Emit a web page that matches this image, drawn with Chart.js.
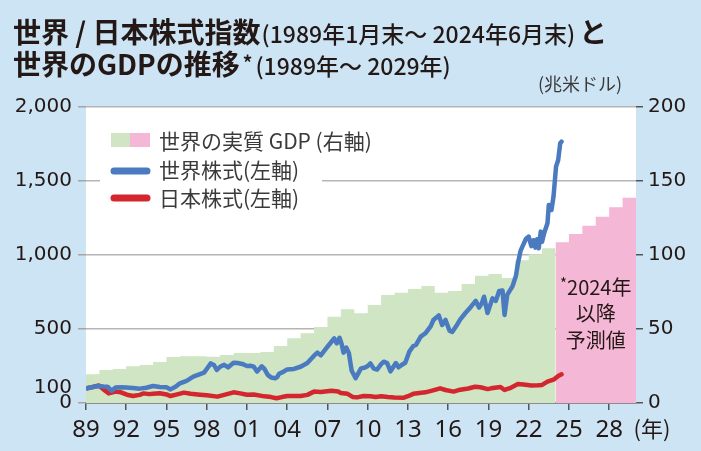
<!DOCTYPE html>
<html>
<head>
<meta charset="utf-8">
<script src="https://cdn.jsdelivr.net/npm/chart.js@4.4.1/dist/chart.umd.min.js"></script>
<style>
html, body { margin: 0; padding: 0; background: #cde4f5; }
</style>
</head>
<body>
<canvas id="stock_gdp" width="701" height="451"></canvas>
<script>
// GDP (trillion USD, right axis), one value per year
var gdpYears = [1989, 1990, 1991, 1992, 1993, 1994, 1995, 1996, 1997, 1998, 1999, 2000, 2001, 2002, 2003, 2004, 2005, 2006,
	2007, 2008, 2009, 2010, 2011, 2012, 2013, 2014, 2015, 2016, 2017, 2018, 2019, 2020, 2021, 2022, 2023];
var gdpActual = [19.5, 22.3, 23.0, 24.9, 25.6, 27.7, 31.0, 31.6, 31.6, 31.2, 32.4, 33.8, 33.8, 34.5, 38.5, 43.7, 47.1, 51.4,
	58.2, 63.4, 60.6, 66.2, 73.0, 74.5, 77.0, 79.0, 74.5, 75.6, 80.4, 86.0, 87.2, 84.5, 96.5, 100.5, 104.5];
var forecastYears = [2024, 2025, 2026, 2027, 2028, 2029];
var gdpForecast = [108.6, 114.2, 119.8, 125.9, 132.2, 138.7];

// stock indices (Jan 1989 = 100, left axis)
var worldDates = [1989.08, 1989.5, 1990.0, 1990.3, 1990.6, 1990.9, 1991.2, 1991.6, 1992.0, 1992.5, 1993.0, 1993.5, 1994.0, 1994.5,
	1995.0, 1995.3, 1995.7, 1996.0, 1996.5, 1997.0, 1997.5, 1997.8, 1998.0, 1998.3, 1998.55, 1998.75, 1999.0, 1999.3, 1999.6,
	2000.0, 2000.3, 2000.65, 2001.0, 2001.25, 2001.5, 2001.75, 2002.1, 2002.3, 2002.55, 2002.8, 2003.1, 2003.25, 2003.4, 2003.7,
	2004.0, 2004.5, 2005.0, 2005.5, 2006.0, 2006.25, 2006.5, 2006.9, 2007.3, 2007.5, 2007.7, 2007.9, 2008.05, 2008.2, 2008.4,
	2008.6, 2008.8, 2009.1, 2009.5, 2009.8, 2010.0, 2010.2, 2010.45, 2010.7, 2011.0, 2011.2, 2011.45, 2011.7, 2012.1, 2012.3,
	2012.5, 2012.8, 2013.1, 2013.4, 2013.6, 2013.95, 2014.3, 2014.7, 2014.9, 2015.3, 2015.55, 2015.8, 2016.1, 2016.3, 2016.6,
	2016.9, 2017.3, 2017.7, 2018.05, 2018.3, 2018.5, 2018.67, 2018.93, 2019.3, 2019.55, 2019.8, 2020.05, 2020.2, 2020.4, 2020.8,
	2021.05, 2021.2, 2021.4, 2021.6, 2021.8, 2022.0, 2022.2, 2022.35, 2022.5, 2022.62, 2022.75, 2022.9, 2023.0, 2023.15, 2023.4,
	2023.5, 2023.7, 2023.85, 2024.04, 2024.2, 2024.35, 2024.45];
var worldIndex = [100, 108, 115, 112, 110, 83, 104, 106, 104, 102, 97, 103, 115, 108,
	106, 92, 112, 133, 150, 178, 195, 205, 230, 268, 255, 223, 245, 258, 241,
	272, 270, 264, 250, 252, 246, 212, 248, 230, 190, 172, 167, 175, 198, 210,
	227, 230, 245, 270, 320, 340, 322, 369, 414, 437, 403, 441, 400, 340, 375,
	336, 220, 168, 234, 240, 250, 268, 232, 226, 262, 279, 270, 214, 270, 241,
	255, 272, 347, 385, 392, 448, 471, 520, 561, 592, 527, 561, 488, 480, 520,
	565, 610, 651, 690, 645, 673, 718, 608, 707, 690, 757, 760, 595, 730, 790,
	860, 944, 1030, 1070, 1110, 1124, 1060, 1100, 1050, 1106, 1045, 1158, 1090, 1147, 1214,
	1338, 1304, 1394, 1597, 1642, 1755, 1766];

var japanDates = [1989.08, 1989.5, 1989.95, 1990.3, 1990.7, 1991.2, 1991.6, 1992.05, 1992.5, 1993.0, 1993.3, 1993.7, 1994.0, 1994.5,
	1995.0, 1995.3, 1995.8, 1996.3, 1996.8, 1997.5, 1998.0, 1998.8, 1999.3, 2000.0, 2000.5, 2001.0, 2001.5, 2002.3, 2002.8,
	2003.2, 2003.6, 2004.0, 2004.5, 2005.0, 2005.5, 2006.0, 2006.5, 2007.3, 2007.8, 2008.0, 2008.5, 2008.9, 2009.2, 2009.7,
	2010.2, 2010.6, 2011.0, 2011.5, 2012.0, 2012.7, 2013.0, 2013.4, 2013.7, 2014.3, 2014.8, 2015.4, 2015.8, 2016.4, 2016.9,
	2017.5, 2018.0, 2018.4, 2018.95, 2019.2, 2019.9, 2020.2, 2020.6, 2021.2, 2021.6, 2022.2, 2022.7, 2023.0, 2023.4, 2023.9,
	2024.2, 2024.45];
var japanIndex = [100, 108, 118, 92, 65, 77, 72, 56, 47, 55, 65, 60, 63, 66,
	58, 47, 58, 70, 62, 56, 52, 43, 55, 72, 65, 56, 58, 45, 40,
	32, 40, 47, 48, 47, 55, 77, 74, 83, 78, 68, 62, 40, 38, 47,
	46, 40, 45, 40, 37, 36, 46, 62, 66, 72, 84, 99, 88, 77, 90,
	98, 110, 106, 94, 99, 108, 88, 100, 128, 125, 118, 120, 122, 144, 160,
	182, 194];

var xTickYears = [1989, 1992, 1995, 1998, 2001, 2004, 2007, 2010, 2013, 2016, 2019, 2022, 2025, 2028];
var leftTicks = [0, 100, 500, 1000, 1500, 2000];
var rightTicks = [0, 50, 100, 150, 200];

var BG = '#cde4f5';
var TEXT = '#231815';
var JP = "'Noto Sans CJK JP', 'Noto Sans', sans-serif";

function toPoints(xs, ys) {
	return xs.map(function (x, i) { return { x: x, y: ys[i] }; });
}

// step series: each year's value holds until the next year starts
function toSteps(years, values) {
	var pts = toPoints(years, values);
	pts.push({ x: years[years.length - 1] + 1, y: values[values.length - 1] });
	return pts;
}

function drawRuns(ctx, runs, x, y) {
	runs.forEach(function (r) {
		ctx.font = r.font;
		ctx.fillText(r.text, x, y + (r.dy || 0));
		x += ctx.measureText(r.text).width + (r.gap || 0);
	});
}

var decorPlugin = {
	id: 'decor',
	beforeDraw: function (chart) {
		var ctx = chart.ctx;
		var a = chart.chartArea;
		ctx.save();
		ctx.fillStyle = BG;
		ctx.fillRect(0, 0, chart.width, chart.height);
		ctx.fillStyle = '#fff';
		ctx.fillRect(a.left, a.top, a.right - a.left, a.bottom - a.top);
		ctx.restore();
	},
	afterDraw: function (chart) {
		var ctx = chart.ctx;
		var xs = chart.scales.x;
		var y2 = chart.scales.y2;
		ctx.save();
		ctx.fillStyle = TEXT;
		ctx.textBaseline = 'alphabetic';
		ctx.textAlign = 'left';

		// title
		drawRuns(ctx, [
			{ text: '世界 / 日本株式指数', font: 'bold 28px ' + JP, gap: 1 },
			{ text: '(1989年1月末～ 2024年6月末)', font: '500 23px ' + JP, gap: 4 },
			{ text: 'と', font: 'bold 28px ' + JP }
		], 13, 43);
		drawRuns(ctx, [
			{ text: '世界のGDPの推移', font: 'bold 28px ' + JP, gap: 3 },
			{ text: '*', font: 'bold 19px ' + JP, dy: -5, gap: 3 },
			{ text: '(1989年～ 2029年)', font: '500 23px ' + JP }
		], 13, 75);

		// unit
		ctx.fillStyle = '#3a3a3a';
		ctx.font = '18px ' + JP;
		ctx.textAlign = 'center';
		ctx.textBaseline = 'middle';
		ctx.fillText('(兆米ドル)', 580, 84);

		// legend
		ctx.fillStyle = '#fff';
		ctx.fillRect(100, 156, 222, 56);
		ctx.fillStyle = '#cfe5c3';
		ctx.fillRect(111, 133, 19, 14);
		ctx.fillStyle = '#f4b7d5';
		ctx.fillRect(130, 133, 20, 14);
		ctx.lineCap = 'round';
		ctx.lineWidth = 7;
		ctx.strokeStyle = '#4a7bc0';
		ctx.beginPath(); ctx.moveTo(114, 171); ctx.lineTo(147, 171); ctx.stroke();
		ctx.strokeStyle = '#d3262e';
		ctx.beginPath(); ctx.moveTo(114, 198); ctx.lineTo(147, 198); ctx.stroke();
		ctx.fillStyle = '#3a3a3a';
		ctx.textAlign = 'left';
		ctx.font = '21px ' + JP;
		ctx.fillText('世界の実質 GDP (右軸)', 159, 141);
		ctx.fillText('世界株式(左軸)', 159, 170);
		ctx.fillText('日本株式(左軸)', 159, 198);

		// forecast note
		ctx.fillStyle = TEXT;
		var cx = xs.getPixelForValue(2027);
		ctx.font = '20px ' + JP;
		var w1 = ctx.measureText('2024年').width;
		ctx.font = '15px ' + JP;
		var w0 = ctx.measureText('*').width;
		var sx = cx - (w0 + w1) / 2;
		ctx.fillText('*', sx, y2.getPixelForValue(78) - 4);
		ctx.font = '20px ' + JP;
		ctx.fillText('2024年', sx + w0, y2.getPixelForValue(78));
		ctx.textAlign = 'center';
		ctx.fillText('以降', cx, y2.getPixelForValue(60.5));
		ctx.fillText('予測値', cx, y2.getPixelForValue(42.3));

		// x unit
		ctx.font = '22px ' + JP;
		ctx.fillText('(年)', 652, 429);
		ctx.restore();
	}
};

var ctx = document.getElementById('stock_gdp').getContext('2d');
window.stockChart = new Chart(ctx, {
	type: 'line',
	data: {
		datasets: [{
			label: '世界株式(左軸)',
			data: toPoints(worldDates, worldIndex),
			yAxisID: 'y',
			borderColor: '#4a7bc0',
			borderWidth: 4.5,
			pointRadius: 0,
			borderJoinStyle: 'round',
			borderCapStyle: 'round',
			order: 0
		}, {
			label: '日本株式(左軸)',
			data: toPoints(japanDates, japanIndex),
			yAxisID: 'y',
			borderColor: '#d3262e',
			borderWidth: 4.5,
			pointRadius: 0,
			borderJoinStyle: 'round',
			borderCapStyle: 'round',
			order: 1
		}, {
			label: '世界の実質 GDP',
			data: toSteps(gdpYears, gdpActual),
			yAxisID: 'y2',
			stepped: true,
			fill: 'origin',
			backgroundColor: '#cfe5c3',
			borderColor: 'rgba(0,0,0,0)',
			borderWidth: 0,
			pointRadius: 0,
			order: 2
		}, {
			label: '予測',
			data: toSteps(forecastYears, gdpForecast),
			yAxisID: 'y2',
			stepped: true,
			fill: 'origin',
			backgroundColor: '#f4b7d5',
			borderColor: 'rgba(0,0,0,0)',
			borderWidth: 0,
			pointRadius: 0,
			order: 3
		}]
	},
	options: {
		responsive: false,
		animation: false,
		layout: { padding: { top: 107, left: 0, right: 0, bottom: 0 } },
		scales: {
			x: {
				type: 'linear',
				min: 1989,
				max: 2030,
				afterBuildTicks: function (axis) {
					axis.ticks = xTickYears.map(function (v) { return { value: v }; });
				},
				afterFit: function (axis) { axis.height = 48; },
				grid: {
					drawOnChartArea: false,
					tickLength: 7,
					tickColor: '#555',
					lineWidth: 1.5
				},
				border: { display: true, color: '#8c8c8c', width: 2 },
				ticks: {
					autoSkip: false,
					maxRotation: 0,
					padding: 6,
					color: TEXT,
					font: { family: "'Noto Sans', sans-serif", size: 24 },
					callback: function (v) { return String(v % 100).padStart(2, '0'); }
				}
			},
			y: {
				position: 'left',
				min: 0,
				max: 2000,
				afterBuildTicks: function (axis) {
					axis.ticks = leftTicks.map(function (v) { return { value: v }; });
				},
				afterFit: function (axis) { axis.width = 86; },
				grid: {
					color: function (c) {
						return (c.tick && (c.tick.value === 0 || c.tick.value === 100)) ? 'rgba(0,0,0,0)' : '#b5b5b5';
					},
					tickColor: function (c) {
						return (c.tick && c.tick.value === 100) ? 'rgba(0,0,0,0)' : '#a5a5a5';
					},
					lineWidth: 1.5,
					tickLength: 8
				},
				border: { display: false },
				ticks: {
					padding: 6,
					color: TEXT,
					font: { family: "'DejaVu Sans', sans-serif", size: 20 },
					callback: function (v) { return v.toLocaleString('en-US'); }
				}
			},
			y2: {
				position: 'right',
				min: 0,
				max: 200,
				afterBuildTicks: function (axis) {
					axis.ticks = rightTicks.map(function (v) { return { value: v }; });
				},
				afterFit: function (axis) { axis.width = 65; },
				grid: {
					drawOnChartArea: false,
					tickLength: 7,
					tickColor: '#555',
					lineWidth: 1.5
				},
				border: { display: false },
				ticks: {
					padding: 5,
					color: TEXT,
					font: { family: "'DejaVu Sans', sans-serif", size: 20 }
				}
			}
		},
		plugins: {
			legend: { display: false },
			tooltip: { enabled: false },
			title: { display: false }
		}
	},
	plugins: [decorPlugin]
});
</script>
</body>
</html>
